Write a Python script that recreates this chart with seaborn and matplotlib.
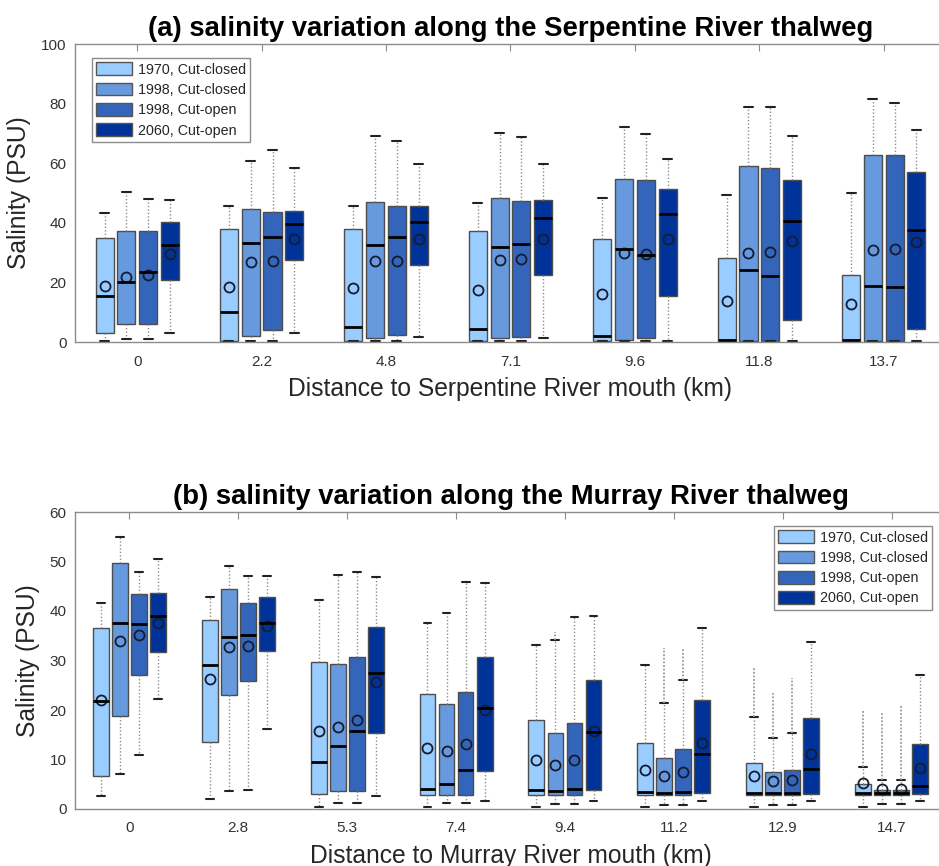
import numpy as np
import pandas as pd
import matplotlib
matplotlib.use("Agg")
import matplotlib.pyplot as plt
from matplotlib.patches import Patch
import seaborn as sns

# ---------------- data ----------------
scenarios = ["1970, Cut-closed", "1998, Cut-closed", "1998, Cut-open", "2060, Cut-open"]
colors = ["#99CCFF", "#6699DD", "#3366BB", "#003399"]

# panel (a) Serpentine River
dist_a = ["0", "2.2", "4.8", "7.1", "9.6", "11.8", "13.7"]
a_lo = [[0.2, 0.2, 0.2, 0.2, 0.2, 0.2, 0.2],
        [1.1, 0.2, 0.2, 0.2, 0.2, 0.2, 0.2],
        [1.1, 0.2, 0.2, 0.2, 0.2, 0.2, 0.2],
        [3.1, 3.1, 1.8, 1.5, 0.2, 0.2, 0.2]]
a_q1 = [[3.1, 0.2, 0.2, 0.2, 0.4, 0.3, 0.3],
        [6.2, 2.0, 1.5, 1.3, 0.6, 0.3, 0.3],
        [6.2, 3.9, 2.5, 1.7, 1.3, 0.3, 0.3],
        [20.8, 27.6, 25.8, 22.4, 15.5, 7.5, 4.3]]
a_med = [[15.4, 10.0, 5.2, 4.2, 1.9, 0.7, 0.7],
         [20.2, 33.3, 32.7, 31.9, 31.2, 24.0, 18.8],
         [23.6, 35.4, 35.2, 33.0, 29.1, 22.1, 18.4],
         [32.6, 39.6, 40.3, 41.5, 42.9, 40.7, 37.6]]
a_q3 = [[34.8, 37.8, 37.9, 37.4, 34.4, 28.3, 22.4],
        [37.4, 44.6, 47.1, 48.4, 54.8, 58.9, 62.7],
        [37.1, 43.6, 45.8, 47.2, 54.4, 58.5, 62.6],
        [40.4, 43.8, 45.7, 47.6, 51.5, 54.4, 56.9]]
a_hi = [[43.3, 45.7, 45.7, 46.6, 48.2, 49.2, 49.9],
        [50.3, 60.8, 69.2, 70.2, 72.1, 79.0, 81.5],
        [48.1, 64.5, 67.4, 68.8, 69.9, 79.0, 80.2],
        [47.8, 58.4, 59.7, 59.8, 61.5, 69.2, 71.2]]
a_mean = [[18.9, 18.5, 18.0, 17.6, 16.1, 13.9, 12.6],
          [21.9, 26.7, 27.1, 27.5, 29.8, 29.9, 30.9],
          [22.4, 27.2, 27.3, 27.9, 29.6, 30.1, 31.3],
          [29.6, 34.6, 34.7, 34.7, 34.6, 34.0, 33.7]]

# panel (b) Murray River
nan = np.nan
dist_b = ["0", "2.8", "5.3", "7.4", "9.4", "11.2", "12.9", "14.7"]
b_lo = [[2.6, 2.0, 0.5, 0.5, 0.5, 0.4, 0.4, 0.4],
        [7.1, 3.7, 1.3, 1.3, 1.0, 0.9, 0.9, 1.0],
        [11.0, 3.8, 1.3, 1.3, 1.0, 0.9, 0.9, 1.0],
        [22.2, 16.1, 2.6, 1.7, 1.7, 1.7, 1.7, 1.7]]
b_q1 = [[6.6, 13.6, 3.0, 2.9, 2.8, 2.8, 2.8, 2.8],
        [18.7, 23.0, 3.6, 2.9, 2.8, 2.8, 2.8, 2.8],
        [27.0, 25.8, 3.7, 2.9, 2.8, 2.8, 2.8, 2.8],
        [31.7, 31.9, 15.3, 7.7, 3.9, 3.2, 3.1, 3.1]]
b_med = [[21.8, 29.0, 9.4, 4.0, 3.8, 3.4, 3.2, 3.2],
         [37.6, 34.8, 12.7, 5.1, 3.6, 3.3, 3.2, 3.2],
         [37.3, 35.2, 15.7, 7.9, 4.0, 3.5, 3.2, 3.2],
         [39.0, 37.6, 27.5, 20.5, 15.5, 11.2, 8.1, 4.7]]
b_q3 = [[36.6, 38.1, 29.7, 23.3, 18.0, 13.3, 9.2, 5.1],
        [49.7, 44.4, 29.2, 21.3, 15.3, 10.4, 7.4, 3.9],
        [43.5, 41.6, 30.8, 23.6, 17.4, 12.2, 7.9, 3.9],
        [43.6, 42.8, 36.7, 30.7, 26.1, 22.1, 18.4, 13.1]]
b_hi = [[41.6, 42.8, 42.2, 37.6, 33.2, 29.0, 18.6, 8.5],
        [55.0, 49.0, 47.2, 39.5, 34.2, 21.5, 14.3, 5.8],
        [47.9, 47.1, 47.9, 45.9, 38.7, 26.1, 15.4, 5.9],
        [50.5, 47.1, 46.9, 45.6, 39.0, 36.6, 33.7, 27.1]]
b_mean = [[22.0, 26.2, 15.8, 12.3, 9.8, 7.8, 6.6, 5.2],
          [33.9, 32.8, 16.6, 11.8, 8.8, 6.7, 5.6, 4.0],
          [35.2, 32.9, 17.9, 13.2, 9.8, 7.4, 5.9, 4.0],
          [37.6, 37.0, 25.7, 19.9, 15.8, 13.3, 11.2, 8.3]]
b_flier_max = [[nan, nan, nan, nan, nan, nan, 28.4, 20.1],
               [nan, nan, nan, nan, 35.7, 32.5, 23.4, 19.4],
               [nan, nan, nan, nan, nan, 32.4, 26.5, 21.1],
               [nan, nan, nan, nan, nan, nan, nan, nan]]

# ---------------- style ----------------
sns.set_theme(style="white")
plt.rcParams["font.family"] = ["Liberation Sans", "DejaVu Sans"]

SPINE = "#8c8c8c"
TXT = "#262626"


def draw_panel(ax, dist, lo, q1, med, q3, hi, mean, fmax, ymax, yticks,
               title, xlabel, leg_loc, leg_anchor):
    rows = []
    for s, sc in enumerate(scenarios):
        for d, dd in enumerate(dist):
            for v in (lo[s][d], q1[s][d], med[s][d], q3[s][d], hi[s][d]):
                rows.append((dd, sc, v))
    box_df = pd.DataFrame(rows, columns=["dist", "scenario", "sal"])

    sns.boxplot(data=box_df, x="dist", y="sal", hue="scenario",
                order=dist, hue_order=scenarios, palette=colors,
                saturation=1, width=0.7, gap=0.17, whis=(0, 100), fliersize=0,
                linecolor="#4d4d4d", linewidth=1.0, legend=False, ax=ax,
                boxprops=dict(edgecolor="#4d4d4d", linewidth=1.0),
                medianprops=dict(color="black", linewidth=2.0),
                whiskerprops=dict(color="#8c8c8c", linewidth=1.0,
                                  linestyle=(0, (1, 1.5))),
                capprops=dict(color="#222222", linewidth=1.5))

    if fmax is not None:
        frows = []
        for s, sc in enumerate(scenarios):
            for d, dd in enumerate(dist):
                if not np.isnan(fmax[s][d]):
                    frows.append((dd, sc, hi[s][d]))
                    frows.append((dd, sc, fmax[s][d]))
        fl_df = pd.DataFrame(frows, columns=["dist", "scenario", "sal"])
        sns.pointplot(data=fl_df, x="dist", y="sal", hue="scenario",
                      order=dist, hue_order=scenarios,
                      palette=["#9a9a9a"] * 4, dodge=0.525,
                      estimator="max", errorbar=("pi", 100),
                      markers="none", linestyles="none",
                      err_kws=dict(linewidth=1.3, linestyle=(0, (1, 1.0))),
                      legend=False, ax=ax)

    mrows = []
    for s, sc in enumerate(scenarios):
        for d, dd in enumerate(dist):
            mrows.append((dd, sc, mean[s][d]))
    mean_df = pd.DataFrame(mrows, columns=["dist", "scenario", "sal"])
    sns.pointplot(data=mean_df, x="dist", y="sal", hue="scenario",
                  order=dist, hue_order=scenarios,
                  palette=["#141c30"] * 4, dodge=0.525, errorbar=None,
                  markers="o", linestyles="none", markersize=7.2,
                  markerfacecolor="none", markeredgewidth=1.3,
                  legend=False, ax=ax)

    ax.set_ylim(0, ymax)
    ax.set_yticks(yticks)
    ax.set_xlim(-0.5, len(dist) - 0.5)
    ax.set_title(title, fontsize=19.8, fontweight="bold", color="black", pad=6)
    ax.set_xlabel(xlabel, fontsize=17.7, color=TXT, labelpad=6)
    ax.set_ylabel("Salinity (PSU)", fontsize=17.7, color=TXT, labelpad=7)
    for sp in ax.spines.values():
        sp.set_color(SPINE)
        sp.set_linewidth(1.0)
        sp.set_visible(True)
    ax.tick_params(axis="both", direction="in", top=True, right=True,
                   length=5, width=0.8, color=SPINE, labelsize=11,
                   labelcolor="#333333")
    ax.tick_params(axis="x", pad=9)
    ax.tick_params(axis="y", pad=6)
    ax.grid(False)

    handles = [Patch(facecolor=c, edgecolor="#555555", linewidth=1.0) for c in colors]
    leg = ax.legend(handles, scenarios, loc=leg_loc, bbox_to_anchor=leg_anchor,
                    fontsize=10.3, frameon=True, fancybox=False, framealpha=1,
                    edgecolor=SPINE, handlelength=2.5, handleheight=1.0,
                    handletextpad=0.4, labelspacing=0.42, borderpad=0.3,
                    borderaxespad=0)
    leg.get_frame().set_linewidth(1.0)
    for t in leg.get_texts():
        t.set_color(TXT)


fig = plt.figure(figsize=(9.39, 8.66), dpi=100)
ax_a = fig.add_axes([75 / 939, (866 - 342) / 866, 871 / 939, 298 / 866])
ax_b = fig.add_axes([75 / 939, (866 - 809) / 866, 871 / 939, 297 / 866])

draw_panel(ax_a, dist_a, a_lo, a_q1, a_med, a_q3, a_hi, a_mean, None,
           100, [0, 20, 40, 60, 80, 100],
           "(a) salinity variation along the Serpentine River thalweg",
           "Distance to Serpentine River mouth (km)",
           "upper left", (0.0195, 0.953))
draw_panel(ax_b, dist_b, b_lo, b_q1, b_med, b_q3, b_hi, b_mean, b_flier_max,
           60, [0, 10, 20, 30, 40, 50, 60],
           "(b) salinity variation along the Murray River thalweg",
           "Distance to Murray River mouth (km)",
           "upper right", (0.984, 0.953))

fig.savefig("out.png", dpi=100)
